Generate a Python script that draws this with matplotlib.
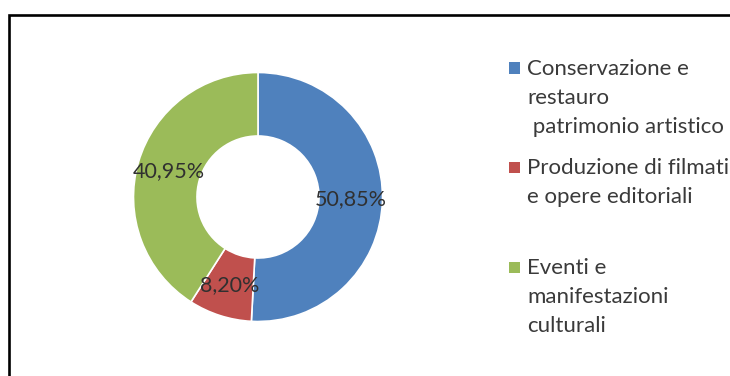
import matplotlib
matplotlib.use('Agg')
import matplotlib.pyplot as plt
from matplotlib.patches import Rectangle

# Ripartizione della spesa per area di intervento
categorie = ['Conservazione e\nrestauro\n patrimonio artistico',
             'Produzione di filmati\ne opere editoriali',
             'Eventi e\nmanifestazioni\nculturali']
quote = [50.85, 8.20, 40.95]
colori = ['#4F81BD', '#C0504D', '#9BBB59']

W, H = 730, 376
fig = plt.figure(figsize=(W / 100, H / 100), dpi=100)
plt.rcParams['font.family'] = ['Lato', 'DejaVu Sans']

# riquadro del grafico (aperto a destra e in basso)
fig.patches.append(Rectangle((9 / W, -0.2), 1.2, (H - 15) / H + 0.2,
                             transform=fig.transFigure, fill=False,
                             edgecolor='black', linewidth=1.9))

# ciambella
cx, cy, r = 258, H - 197, 127
ax = fig.add_axes([(cx - r) / W, (cy - r) / H, 2 * r / W, 2 * r / H])
buco = 0.49


def etichetta(p):
    return f"{p:.2f}%".replace('.', ',')


wedges, testi, pct = ax.pie(quote, colors=colori, startangle=90, counterclock=False,
                            radius=1, autopct=etichetta, pctdistance=(1 + buco) / 2,
                            wedgeprops=dict(width=1 - buco, edgecolor='white', linewidth=1.2),
                            textprops=dict(fontsize=15.5, color='#303030'))
ax.set_xlim(-1.02, 1.02)
ax.set_ylim(-1.02, 1.02)
ax.axis('off')

# legenda a destra
ys = [68, 167, 267]
for nome, col, y in zip(categorie, colori, ys):
    fig.patches.append(Rectangle((509 / W, (H - y - 5.5) / H), 11 / W, 11 / H,
                                 transform=fig.transFigure, facecolor=col, edgecolor='none'))
    fig.text(527 / W, (H - y + 9) / H, nome, fontsize=16, color='#3a3a3a',
             va='top', ha='left', linespacing=1.56)

fig.savefig('out.png', dpi=100)
